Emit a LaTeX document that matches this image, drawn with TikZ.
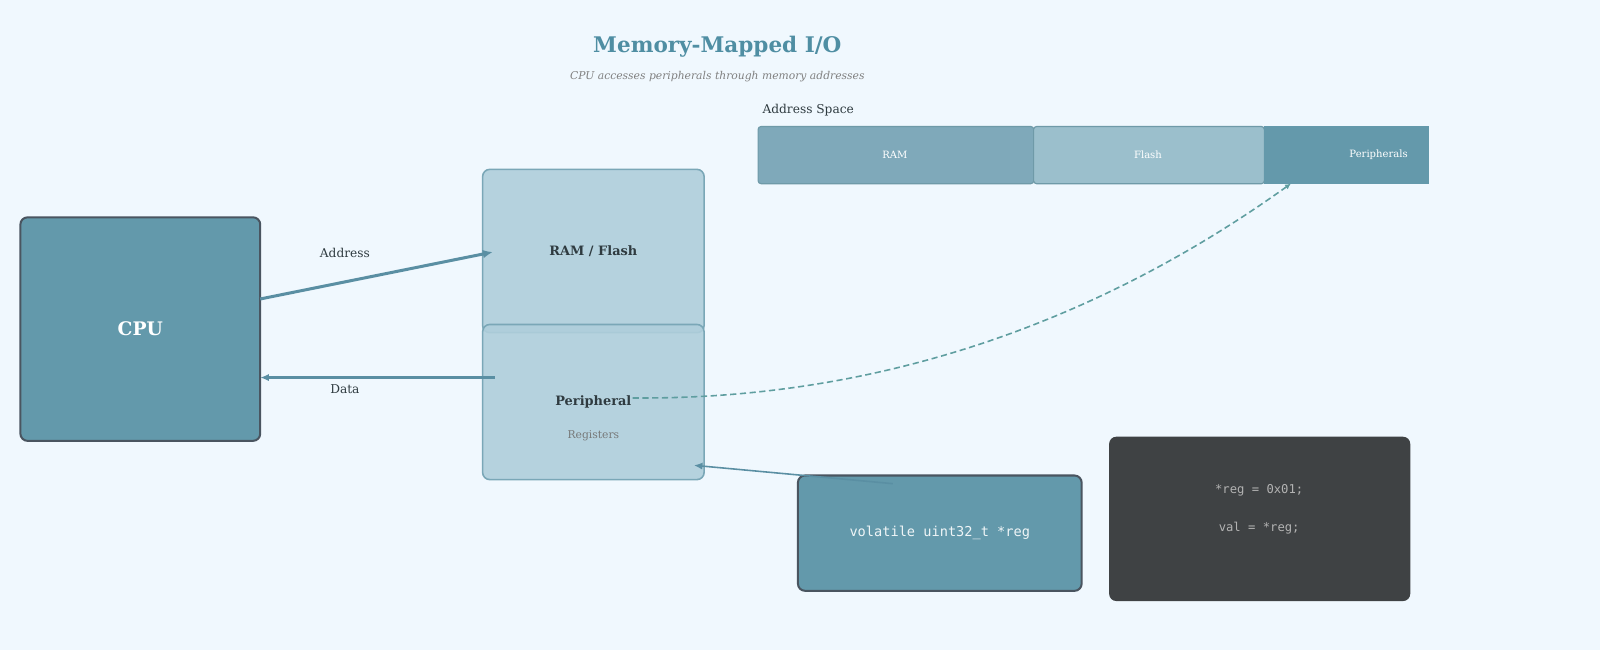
\documentclass[tikz,border=0pt]{standalone}
\usepackage{fontspec}
\setmainfont{DejaVu Serif}
\setmonofont{DejaVu Sans Mono}
\usetikzlibrary{arrows.meta}
\definecolor{bgblue}{HTML}{F0F8FE}
\definecolor{cpublue}{HTML}{6399AB}
\definecolor{cpuedge}{HTML}{4A5560}
\definecolor{memfill}{HTML}{AFCEDB}
\definecolor{memedge}{HTML}{7AA7B7}
\definecolor{arrowblue}{HTML}{5A8FA3}
\definecolor{dashblue}{HTML}{5F9EA0}
\definecolor{ramseg}{HTML}{7FA9BA}
\definecolor{flashseg}{HTML}{9BBFCC}
\definecolor{periseg}{HTML}{6499AB}
\definecolor{segedge}{HTML}{6F9AA8}
\definecolor{codegray}{HTML}{3F4244}
\definecolor{codetext}{HTML}{B3B3B3}
\definecolor{titleblue}{HTML}{4F8EA3}
\definecolor{darktext}{HTML}{2F3B40}
\tikzset{
  darkbox/.style={draw=cpuedge, line width=1.4pt, fill=cpublue, rounded corners=5pt},
  membox/.style={draw=memedge, line width=1.1pt, fill=memfill, fill opacity=0.9, text opacity=1, rounded corners=5pt},
  segbox/.style={draw=segedge, line width=0.8pt, rounded corners=2pt, minimum height=1.4cm},
  seglabel/.style={text=white, font=\fontsize{7}{8}\selectfont},
  lbl/.style={text=darktext, font=\fontsize{8.5}{10}\selectfont},
}
\begin{document}
\begin{tikzpicture}[x=0.025cm, y=-0.025cm]
\fill[bgblue] (0,0) rectangle (1568,637);
% title
\node[text=titleblue, font=\bfseries\fontsize{15}{18}\selectfont] (title) at (703,46) {Memory-Mapped I/O};
\node[text=gray, font=\itshape\fontsize{7.5}{9}\selectfont] (subtitle) at (703,75) {CPU accesses peripherals through memory addresses};
% address space bar
\node[lbl, anchor=west, inner sep=0pt] (space) at (747,108) {Address Space};
\node[segbox, fill=ramseg, minimum width=6.75cm] (ram) at (878,152) {};
\node[segbox, fill=flashseg, minimum width=5.65cm] (flash) at (1126,152) {};
\node[segbox, fill=periseg, draw=periseg, minimum width=4.025cm, rounded corners=0pt] (peri) at (1319.5,152) {};
\node[seglabel] (ramlbl) at (877,152) {RAM};
\node[seglabel] (flashlbl) at (1125,152) {Flash};
\node[seglabel] (perilbl) at (1351,152) {Peripherals};
% boxes
\node[darkbox, minimum width=5.875cm, minimum height=5.475cm, text=white, font=\bfseries\fontsize{13}{15}\selectfont] (cpu) at (137.5,322.5) {CPU};
\node[membox, minimum width=5.425cm, minimum height=4cm, text=darktext, font=\bfseries\fontsize{9}{11}\selectfont] (mem) at (581.5,246) {RAM / Flash};
\node[membox, minimum width=5.425cm, minimum height=3.8cm, text=darktext, font=\bfseries\fontsize{9}{11}\selectfont] (reg) at (581.5,394) {Peripheral};
\node[text=gray!90!darktext, font=\fontsize{7.5}{9}\selectfont] (reglbl) at (581.5,427) {Registers};
\node[darkbox, minimum width=6.95cm, minimum height=2.825cm, text=white!90!cpublue, font=\ttfamily\fontsize{9.5}{11}\selectfont] (ptr) at (921,522.5) {volatile uint32\_t *reg};
\node[fill=codegray, rounded corners=5pt, minimum width=7.375cm, minimum height=4.025cm] (code) at (1234.5,508.5) {};
\node[text=codetext, font=\ttfamily\fontsize{8.5}{10}\selectfont] (write) at (1234,480) {*reg = 0x01;};
\node[text=codetext, font=\ttfamily\fontsize{8.5}{10}\selectfont] (read) at (1234,518) {val = *reg;};
% connectors
\coordinate (addrS) at (255,293);
\coordinate (addrE) at (483,247);
\coordinate (dataS) at (485,370);
\coordinate (dataE) at (255,370);
\coordinate (dashS) at (620,390);
\coordinate (dashE) at (1265,180);
\coordinate (ptrS) at (875,474);
\coordinate (ptrE) at (680,456);
\draw[arrowblue, line width=2.1pt, -{Latex[length=7pt,width=6pt]}] (addrS) -- (addrE);
\draw[arrowblue, line width=1.8pt, -{Latex[length=6pt,width=5pt]}] (dataS) -- (dataE);
\node[lbl] (addrlbl) at (338,248) {Address};
\node[lbl] (datalbl) at (338,381) {Data};
\draw[dashblue, line width=1.1pt, dash pattern=on 4.3pt off 2.5pt, -{Latex[length=4pt,width=4pt]}] (dashS) .. controls (860,392) and (1075,316) .. (dashE);
\draw[arrowblue, line width=1.1pt, -{Latex[length=6pt,width=5pt]}] (ptrS) -- (ptrE);
\end{tikzpicture}
\end{document}
